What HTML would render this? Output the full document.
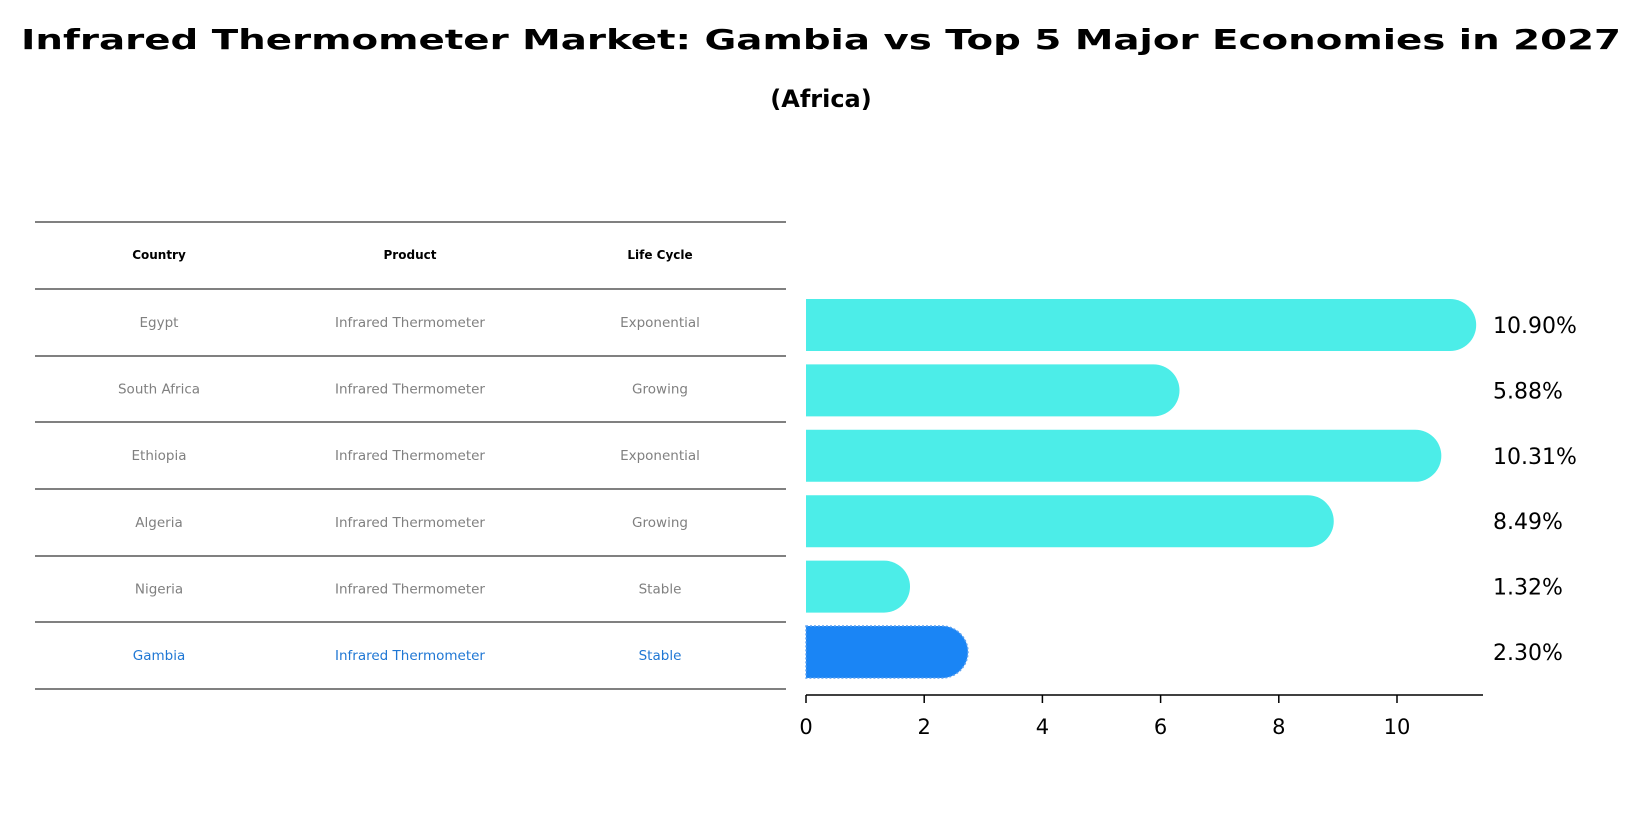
<!DOCTYPE html>
<html><head><meta charset="utf-8"><style>
html,body{margin:0;padding:0;background:#fff;}
svg{display:block;font-family:"DejaVu Sans","Liberation Sans",sans-serif;}
</style></head><body>
<svg id="chart" width="1643" height="823" viewBox="0 0 1643 823">
<text x="821" y="49" text-anchor="middle" font-size="28" font-weight="bold" textLength="1600" lengthAdjust="spacingAndGlyphs">Infrared Thermometer Market: Gambia vs Top 5 Major Economies in 2027</text>
<text x="821" y="107" text-anchor="middle" font-size="24" font-weight="bold">(Africa)</text>
<g id="table"></g>
<g id="bars"></g>
<g id="axis"></g>
</svg>
<script>
const countries=["Egypt","South Africa","Ethiopia","Algeria","Nigeria","Gambia"];
const products=["Infrared Thermometer","Infrared Thermometer","Infrared Thermometer","Infrared Thermometer","Infrared Thermometer","Infrared Thermometer"];
const lifecycles=["Exponential","Growing","Exponential","Growing","Stable","Stable"];
const values=[10.90,5.88,10.31,8.49,1.32,2.30];
const ticks=[0,2,4,6,8,10];
const NS="http://www.w3.org/2000/svg";
const x0=806,pxPer=59.1,axisY=695,axisEnd=1483;
const sx=v=>x0+v*pxPer;
const rowY=i=>325+i*65.4;
const barH=52,r=26;
function mk(tag,attrs,parent){const e=document.createElementNS(NS,tag);for(const k in attrs)e.setAttribute(k,attrs[k]);parent.appendChild(e);return e;}
const tbl=document.getElementById('table'),bars=document.getElementById('bars'),axis=document.getElementById('axis');
const lines=[222,289,356,422,489,556,622,689];
lines.forEach((y,i)=>{const l=mk('line',{x1:35,x2:786,y1:y,y2:y,stroke:'#000','stroke-width':1.1},tbl);

});
const colX=[159,410,660];
["Country","Product","Life Cycle"].forEach((h,j)=>{const t=mk('text',{x:colX[j],y:259,'text-anchor':'middle','font-size':12,'font-weight':'bold'},tbl);t.textContent=h;

});
countries.forEach((c,i)=>{
  const y=(lines[i+1]+lines[i+2])/2+4.5;
  const col=c==="Gambia"?"#1f77d4":"#808080";
  [c,products[i],lifecycles[i]].forEach((v,j)=>{const t=mk('text',{x:colX[j],y:y,'text-anchor':'middle','font-size':13.5,fill:col},tbl);t.textContent=v;
  
  });
  const cy=rowY(i),xe=sx(values[i]);
  const isG=c==="Gambia";
  const p=mk('path',{d:`M${x0},${cy-barH/2} H${xe} A${r},${r} 0 0 1 ${xe},${cy+barH/2} H${x0} Z`,fill:isG?'#1a85f5':'#4cede8',stroke:isG?'#5aa0f0':'none','stroke-dasharray':isG?'2,2':'none','stroke-width':1.5},bars);
  
  
  const lt=mk('text',{x:1493,y:cy+8,'font-size':22},bars);lt.textContent=values[i].toFixed(2)+'%';
  
  
});
const al=mk('line',{x1:x0,x2:axisEnd,y1:axisY,y2:axisY,stroke:'#000','stroke-width':1.5},axis);


ticks.forEach(t=>{const x=sx(t);
  const tl=mk('line',{x1:x,x2:x,y1:axisY,y2:axisY+8,stroke:'#000','stroke-width':1.5},axis);
  
  
  const tx=mk('text',{x:x,y:734,'text-anchor':'middle','font-size':21},axis);tx.textContent=t;
  
  });
</script>
</body></html>
